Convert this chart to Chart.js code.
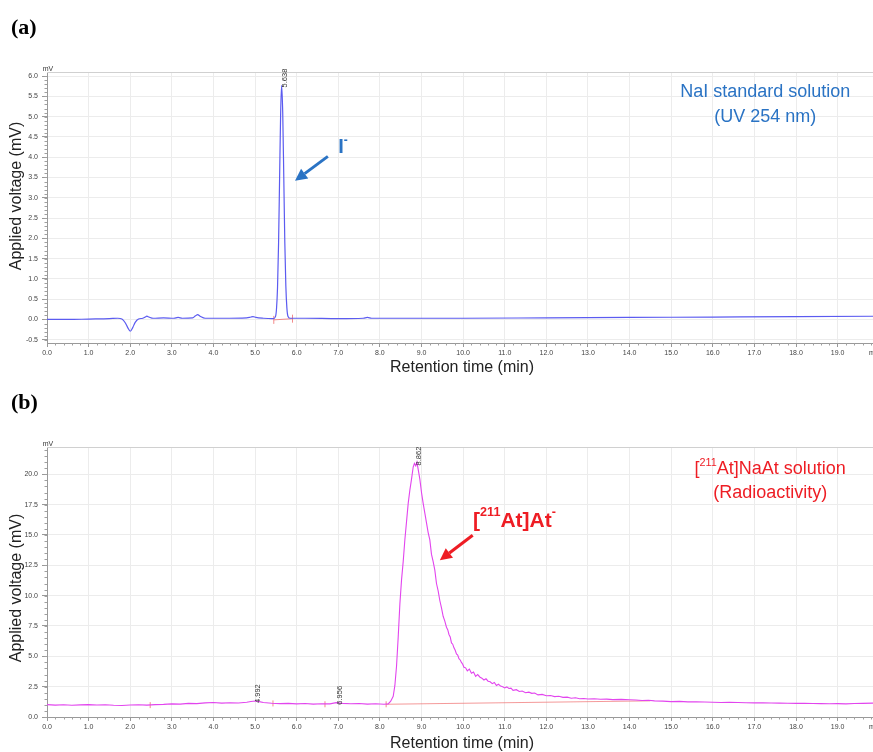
<!DOCTYPE html>
<html>
<head>
<meta charset="utf-8">
<script src="https://cdn.jsdelivr.net/npm/chart.js@4.4.1/dist/chart.umd.min.js"></script>
<style>
  html, body { margin: 0; padding: 0; background: #fff; }
  body { width: 873px; height: 752px; position: relative; overflow: hidden; }
  canvas { position: absolute; left: 0; }
  #chartA { top: 0; }
  #chartB { top: 380px; }
</style>
</head>
<body>
<canvas id="chartA" width="873" height="380"></canvas>
<canvas id="chartB" width="873" height="372"></canvas>
<script>
// (a) NaI standard, UV 254 nm trace
const timeA = [0, 0.5, 1.0, 1.5, 1.7, 1.8, 1.88, 1.94, 2.0, 2.06, 2.12, 2.2, 2.3, 2.36, 2.4, 2.45, 2.55, 2.8, 3.05, 3.15, 3.25,
  3.5, 3.57, 3.62, 3.68, 3.8, 4.2, 4.8, 4.9, 4.95, 5.02, 5.2, 5.4, 5.44, 5.49, 5.515, 5.54, 5.565, 5.59, 5.615, 5.638,
  5.665, 5.69, 5.715, 5.74, 5.765, 5.79, 5.84, 5.9, 6.2, 7.0, 7.6, 7.7, 7.8, 9.0, 10.0, 12.0, 14.0, 16.0, 18.0, 19.9];
const voltA = [0.0, 0.0, 0.01, 0.02, 0.03, 0.01, -0.08, -0.2, -0.29, -0.2, -0.07, 0.01, 0.03, 0.06, 0.08, 0.06, 0.03, 0.04, 0.03, 0.05, 0.03,
  0.04, 0.09, 0.12, 0.08, 0.03, 0.03, 0.04, 0.06, 0.07, 0.05, 0.03, 0.02, 0.02, 0.07, 0.26, 0.79, 1.88, 3.5, 5.09, 5.77,
  5.09, 3.52, 1.9, 0.82, 0.28, 0.08, 0.03, 0.03, 0.03, 0.02, 0.03, 0.05, 0.03, 0.03, 0.03, 0.04, 0.05, 0.06, 0.07, 0.08];
const baseA = { time: [5.45, 5.9], volt: [-0.01, 0.02] };

// (b) [211At]NaAt, radioactivity trace
const timeB = [0.0, 0.2, 0.4, 0.6, 0.8, 1.0, 1.2, 1.4, 1.6, 1.8, 2.0, 2.2, 2.4, 2.6, 2.8, 3.0, 3.2, 3.4, 3.6, 3.8, 4.0, 4.2, 4.4,
  4.6, 4.8, 4.9, 5.0, 5.1, 5.2, 5.4, 5.6, 5.8, 6.0, 6.2, 6.4, 6.6, 6.8, 6.95, 7.1, 7.3, 7.5, 7.7, 7.9, 8.1, 8.2, 8.26, 8.32,
  8.36, 8.40, 8.44, 8.48, 8.52, 8.56, 8.60, 8.64, 8.68, 8.72, 8.76, 8.80, 8.83, 8.862, 8.89, 8.92, 8.96, 9.00, 9.04, 9.08,
  9.12, 9.16, 9.20, 9.24, 9.28, 9.32, 9.36, 9.40, 9.44, 9.48, 9.52, 9.56, 9.60, 9.63, 9.66, 9.69, 9.72, 9.75, 9.78, 9.81,
  9.84, 9.87, 9.90, 9.93, 9.96, 9.99, 10.02, 10.06, 10.1, 10.15, 10.2, 10.25, 10.3, 10.35, 10.4, 10.45, 10.5, 10.55, 10.6,
  10.65, 10.7, 10.75, 10.8, 10.85, 10.9, 10.95, 11.0, 11.05, 11.1, 11.15, 11.2, 11.28, 11.35, 11.42, 11.5, 11.58, 11.65,
  11.72, 11.8, 11.9, 12.0, 12.1, 12.2, 12.3, 12.4, 12.5, 12.6, 12.7, 12.8, 12.9, 13.0, 13.15, 13.3, 13.45, 13.6, 13.8,
  14.0, 14.15, 14.3, 14.45, 14.6, 14.8, 15.0, 15.2, 15.4, 15.6, 15.8, 16.0, 16.2, 16.4, 16.6, 16.8, 17.0, 17.2, 17.4,
  17.6, 17.8, 18.0, 18.2, 18.4, 18.6, 18.8, 19.0, 19.2, 19.4, 19.6, 19.85];
const voltB = [1.02, 0.98, 1.01, 0.97, 1.0, 1.02, 0.99, 1.01, 0.97, 0.95, 0.99, 1.01, 0.98, 1.02, 1.04, 1.08, 1.06, 1.12, 1.1, 1.16, 1.19, 1.14, 1.18,
  1.15, 1.22, 1.28, 1.32, 1.27, 1.2, 1.13, 1.1, 1.12, 1.08, 1.11, 1.06, 1.09, 1.08, 1.18, 1.12, 1.09, 1.11, 1.06, 1.09, 1.05, 1.08, 1.3, 1.7,
  2.6, 4.2, 6.6, 9.3, 11.3, 12.8, 14.6, 16.1, 17.6, 18.7, 19.6, 20.6, 20.9, 20.7, 21.0, 20.4, 19.6, 18.5, 17.6, 16.8,
  16.0, 15.2, 14.6, 13.4, 12.8, 12.1, 11.0, 10.4, 9.6, 9.0, 8.3, 7.9, 7.4, 7.2, 6.8, 6.6, 6.1, 6.0, 5.7, 5.5,
  5.2, 5.1, 4.8, 4.7, 4.5, 4.35, 4.1, 4.05, 3.8, 3.95, 3.6, 3.7, 3.35, 3.5, 3.3, 3.2, 3.05, 3.15, 2.95,
  2.9, 2.75, 2.85, 2.6, 2.7, 2.55, 2.5, 2.4, 2.48, 2.35, 2.38, 2.2, 2.25, 2.1, 2.14, 2.0, 2.05, 1.95,
  1.98, 1.82, 1.86, 1.75, 1.77, 1.68, 1.71, 1.62, 1.64, 1.55, 1.58, 1.5, 1.53, 1.48, 1.5, 1.46, 1.47, 1.43, 1.45,
  1.42, 1.40, 1.36, 1.38, 1.33, 1.31, 1.27, 1.29, 1.25, 1.26, 1.24, 1.22, 1.2, 1.21, 1.19, 1.17, 1.16, 1.17, 1.15,
  1.14, 1.13, 1.12, 1.12, 1.11, 1.1, 1.09, 1.1, 1.08, 1.11, 1.12, 1.14];
const baseB = { time: [8.15, 14.5], volt: [1.05, 1.33] };
const marksB = { time: [2.48, 5.43, 6.68, 8.15], volt: [0.98, 1.12, 1.05, 1.05] };

const FONT = '"Liberation Sans", Arial, sans-serif';
const BLUE = '#2a73c4';
const RED = '#ee1d24';

function pts(ts, vs) {
  return ts.map((t, i) => ({ x: t, y: vs[i] }));
}

// draw a string made of normal / superscript pieces
function richText(ctx, parts, x, y, size, weight, align) {
  const font = s => `${weight} ${s}px ${FONT}`;
  let total = 0;
  parts.forEach(p => {
    ctx.font = font(p.sup ? size * 0.6 : size);
    total += ctx.measureText(p.s).width;
  });
  let cx = align === 'center' ? x - total / 2 : x;
  ctx.textAlign = 'left';
  ctx.textBaseline = 'middle';
  parts.forEach(p => {
    const s = p.sup ? size * 0.6 : size;
    ctx.font = font(s);
    ctx.fillText(p.s, cx, p.sup ? y - size * 0.38 : y);
    cx += ctx.measureText(p.s).width;
  });
}

function arrow(ctx, x1, y1, x2, y2, color) {
  const a = Math.atan2(y2 - y1, x2 - x1);
  const head = 12, half = 6;
  const bx = x2 - head * Math.cos(a), by = y2 - head * Math.sin(a);
  ctx.strokeStyle = color;
  ctx.fillStyle = color;
  ctx.lineWidth = 3;
  ctx.beginPath();
  ctx.moveTo(x1, y1);
  ctx.lineTo(bx, by);
  ctx.stroke();
  ctx.beginPath();
  ctx.moveTo(x2, y2);
  ctx.lineTo(bx + half * Math.sin(a), by - half * Math.cos(a));
  ctx.lineTo(bx - half * Math.sin(a), by + half * Math.cos(a));
  ctx.closePath();
  ctx.fill();
}

// frame, minor ticks, titles, peak labels and annotations
const decor = {
  id: 'decor',
  afterDraw(chart, args, o) {
    const ctx = chart.ctx, area = chart.chartArea;
    const xs = chart.scales.x, ys = chart.scales.y;
    ctx.save();

    ctx.strokeStyle = '#d0d0d0';
    ctx.lineWidth = 1;
    ctx.beginPath();
    ctx.moveTo(area.left, area.top + 0.5);
    ctx.lineTo(area.right, area.top + 0.5);
    ctx.stroke();

    // minor ticks
    ctx.strokeStyle = '#a0a0a0';
    ctx.beginPath();
    for (let i = 0; i * 0.2 <= xs.max; i++) {
      if (i % 5 === 0) continue;
      const px = Math.round(xs.getPixelForValue(i * 0.2)) + 0.5;
      ctx.moveTo(px, area.bottom);
      ctx.lineTo(px, area.bottom + 2.5);
    }
    const n0 = Math.ceil(ys.min / o.minorY), n1 = Math.floor(ys.max / o.minorY);
    for (let k = n0; k <= n1; k++) {
      const py = Math.round(ys.getPixelForValue(k * o.minorY)) + 0.5;
      ctx.moveTo(area.left - 2.5, py);
      ctx.lineTo(area.left, py);
    }
    ctx.stroke();

    // units
    ctx.fillStyle = '#333';
    ctx.font = `7px ${FONT}`;
    ctx.textAlign = 'center';
    ctx.textBaseline = 'middle';
    ctx.fillText('mV', area.left + 1, area.top - 3);
    ctx.textAlign = 'left';
    ctx.fillText('min', area.right - 4, area.bottom + 10);

    // axis titles
    ctx.fillStyle = '#222';
    ctx.font = `16px ${FONT}`;
    ctx.textAlign = 'center';
    ctx.fillText('Retention time (min)', 462, o.xTitleY);
    ctx.save();
    ctx.translate(17, o.yTitleY);
    ctx.rotate(-Math.PI / 2);
    ctx.fillText('Applied voltage (mV)', 0, 0);
    ctx.restore();

    // panel letter
    ctx.fillStyle = '#000';
    ctx.font = `bold 22px "Liberation Serif", "Times New Roman", serif`;
    ctx.textAlign = 'left';
    ctx.fillText(o.letter, 11, o.letterY);

    // retention time labels
    ctx.fillStyle = '#333';
    ctx.font = `7.5px ${FONT}`;
    o.peaks.forEach(p => {
      ctx.save();
      ctx.translate(xs.getPixelForValue(p.t) + 3.5, ys.getPixelForValue(p.v) + 2);
      ctx.rotate(-Math.PI / 2);
      ctx.textAlign = 'left';
      ctx.textBaseline = 'middle';
      ctx.fillText(p.text, 0, 0);
      ctx.restore();
    });

    // annotations
    ctx.fillStyle = o.color;
    o.notes.forEach(n => {
      richText(ctx, n.parts, xs.getPixelForValue(n.t), ys.getPixelForValue(n.v), n.size, n.weight, n.align);
    });
    const a = o.arrow;
    arrow(ctx, xs.getPixelForValue(a.t1), ys.getPixelForValue(a.v1),
      xs.getPixelForValue(a.t2), ys.getPixelForValue(a.v2), o.color);

    ctx.restore();
  }
};

function buildChart(id, cfg) {
  return new Chart(document.getElementById(id), {
    type: 'line',
    data: { datasets: cfg.datasets },
    options: {
      responsive: false,
      animation: false,
      events: [],
      layout: { autoPadding: false, padding: { top: cfg.padTop, left: 0, right: 0, bottom: 0 } },
      plugins: { legend: { display: false }, tooltip: { enabled: false }, decor: cfg.decor },
      scales: {
        x: {
          type: 'linear', min: 0, max: 19.85,
          afterFit: s => { s.height = cfg.xHeight; s.paddingLeft = 0; s.paddingRight = 0; },
          ticks: {
            stepSize: 1, includeBounds: false, autoSkip: false, maxRotation: 0, maxTicksLimit: 40,
            padding: 2, color: '#444', font: { size: 7, family: FONT },
            callback: v => v.toFixed(1)
          },
          grid: { color: '#ececec', tickColor: '#999', tickLength: 4 },
          border: { color: '#999' }
        },
        y: {
          type: 'linear', min: cfg.yMin, max: cfg.yMax,
          afterFit: s => { s.width = 47; s.paddingTop = 0; s.paddingBottom = 0; },
          ticks: {
            stepSize: cfg.yStep, includeBounds: false, maxTicksLimit: 40,
            padding: 4, color: '#444', font: { size: 7, family: FONT },
            callback: v => v.toFixed(1)
          },
          grid: { color: '#ececec', tickColor: '#999', tickLength: 5 },
          border: { color: '#999' }
        }
      }
    },
    plugins: [decor]
  });
}

buildChart('chartA', {
  padTop: 72, xHeight: 37, yMin: -0.58, yMax: 6.1, yStep: 0.5,
  datasets: [
    { data: pts(timeA, voltA), borderColor: '#5b5bf0', borderWidth: 1.2, pointRadius: 0, cubicInterpolationMode: 'monotone', order: 1 },
    { data: pts(baseA.time, baseA.volt), borderColor: 'rgba(240,110,110,0.8)', borderWidth: 1, order: 2,
      pointStyle: 'line', rotation: 90, pointRadius: 4, pointBorderColor: 'rgba(240,110,110,0.8)' }
  ],
  decor: {
    minorY: 0.1, xTitleY: 368, yTitleY: 196, letter: '(a)', letterY: 28,
    color: BLUE,
    peaks: [{ t: 5.638, v: 5.77, text: '5.638' }],
    notes: [
      { t: 17.26, v: 5.60, parts: [{ s: 'NaI standard solution' }], size: 18, weight: 'normal', align: 'center' },
      { t: 17.26, v: 4.99, parts: [{ s: '(UV 254 nm)' }], size: 18, weight: 'normal', align: 'center' },
      { t: 7.0, v: 4.23, parts: [{ s: 'I' }, { s: '-', sup: true }], size: 20, weight: 'bold', align: 'left' }
    ],
    arrow: { t1: 6.75, v1: 4.02, t2: 5.96, v2: 3.42 }
  }
});

buildChart('chartB', {
  padTop: 67, xHeight: 35, yMin: 0, yMax: 22.25, yStep: 2.5,
  datasets: [
    { data: pts(timeB, voltB), borderColor: '#e245ee', borderWidth: 1.1, pointRadius: 0, tension: 0, order: 1 },
    { data: pts(baseB.time, baseB.volt), borderColor: 'rgba(240,110,110,0.7)', borderWidth: 1, pointRadius: 0, order: 2 },
    { data: pts(marksB.time, marksB.volt), showLine: false, order: 3,
      pointStyle: 'line', rotation: 90, pointRadius: 3, pointBorderColor: 'rgba(240,110,110,0.8)', pointBorderWidth: 1 }
  ],
  decor: {
    minorY: 0.5, xTitleY: 364, yTitleY: 208, letter: '(b)', letterY: 23,
    color: RED,
    peaks: [
      { t: 4.992, v: 1.32, text: '4.992' },
      { t: 6.956, v: 1.18, text: '6.956' },
      { t: 8.862, v: 20.9, text: '8.862' }
    ],
    notes: [
      { t: 17.38, v: 20.40, parts: [{ s: '[' }, { s: '211', sup: true }, { s: 'At]NaAt solution' }], size: 18, weight: 'normal', align: 'center' },
      { t: 17.38, v: 18.42, parts: [{ s: '(Radioactivity)' }], size: 18, weight: 'normal', align: 'center' },
      { t: 10.24, v: 16.17, parts: [{ s: '[' }, { s: '211', sup: true }, { s: 'At]At' }, { s: '-', sup: true }], size: 21, weight: 'bold', align: 'left' }
    ],
    arrow: { t1: 10.23, v1: 14.98, t2: 9.44, v2: 12.92 }
  }
});
</script>
</body>
</html>
